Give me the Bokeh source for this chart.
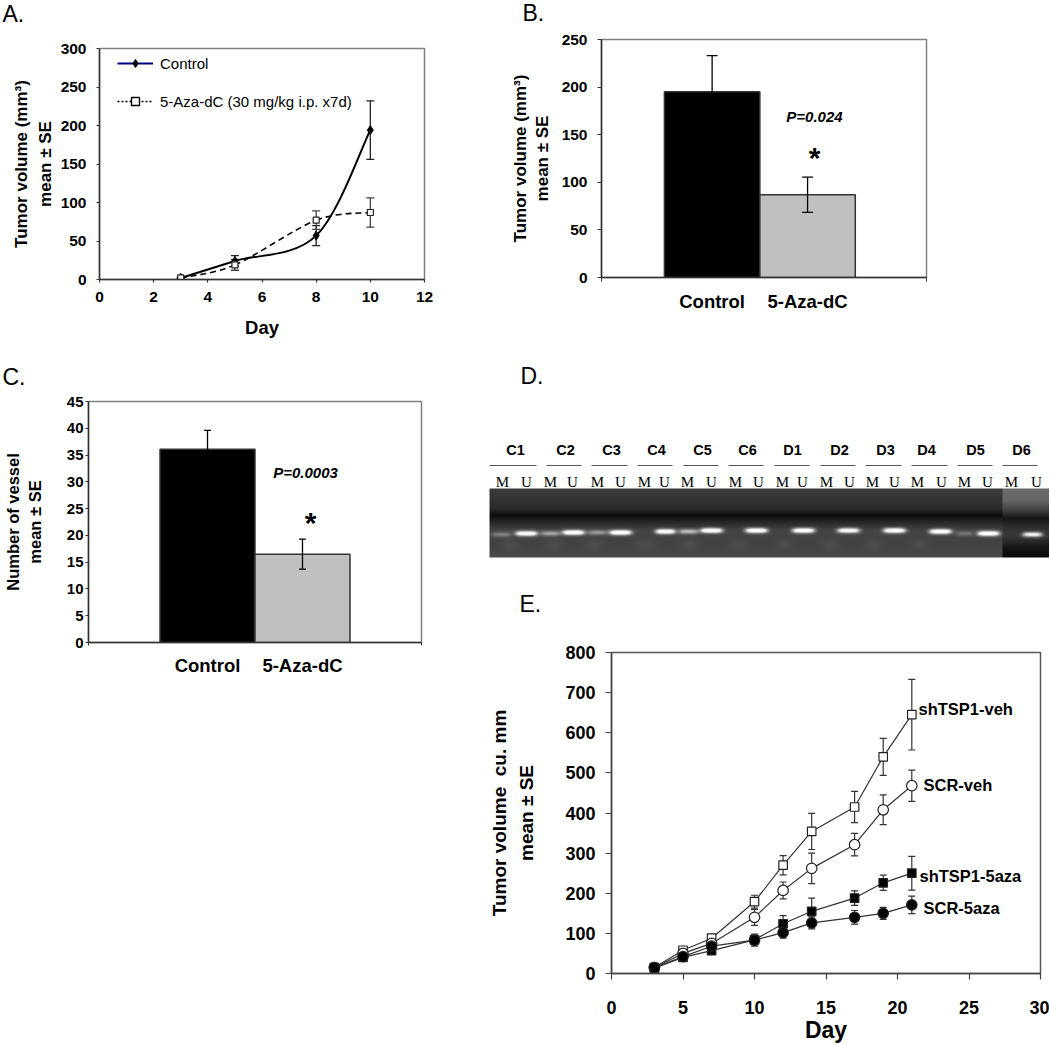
import numpy as np
from bokeh.plotting import figure
from bokeh.layouts import row, column
from bokeh.models import (Range1d, FixedTicker, Label, Whisker, TeeHead, ColumnDataSource,
                          Legend, LegendItem)
from bokeh.core.properties import value
from bokeh.embed import file_html
from bokeh.resources import INLINE

SANS = "Liberation Sans"
SERIF = "Liberation Serif"

# ---- Panel A
a_days = [3, 5, 8, 10]
a_control = [2, 24, 57, 194]
a_control_se = [1, 7, 13, 38]
a_aza = [2, 19, 77, 87]
a_aza_se = [1, 7, 12, 19]
# ---- Panel B
b_labels = ["Control", "5-Aza-dC"]
b_values = [195, 87]
b_se = [38, 18.5]
# ---- Panel C
c_labels = ["Control", "5-Aza-dC"]
c_values = [36.1, 16.5]
c_se = [3.5, 2.8]
# ---- Panel D
d_groups = ["C1", "C2", "C3", "C4", "C5", "C6", "D1", "D2", "D3", "D4", "D5", "D6"]
d_lanes = ["M", "U"] * 12
d_group_x = [516, 566, 612, 657, 703, 748, 793, 840, 886, 927, 976, 1022]
d_rule_x0 = [490, 547, 592, 638, 684, 729, 775, 821, 866, 912, 958, 1003]
d_rule_x1 = [537, 582, 628, 673, 719, 764, 810, 856, 902, 948, 993, 1038]
d_lane_x = [503, 527, 551, 573, 598, 621, 645, 665, 688, 712, 736, 759,
            783, 803, 827, 850, 873, 895, 918, 942, 965, 988, 1012, 1037]
d_band_x = [502, 527, 551, 574, 598, 621, 666, 689, 712, 757, 804, 849, 895, 941, 965, 989, 1033]
d_band_y = [534, 533, 533, 532, 532, 532, 531, 531, 530, 530, 530, 530, 530, 531, 533, 533, 534]
d_band_w = [18, 20, 18, 20, 18, 20, 18, 18, 20, 20, 20, 20, 20, 20, 16, 20, 18]
d_band_i = [.25, .95, .40, 1.0, .35, 1.0, .95, .50, 1.0, 1.0, 1.0, .9, 1.0, 1.0, .2, 1.0, .8]
d_blob_x = [510, 555, 595, 645, 690, 740, 785, 830, 875, 920]
# ---- Panel E
e_days = [3, 5, 7, 10, 12, 14, 17, 19, 21]
e_sh_veh = [15, 58, 88, 179, 270, 354, 415, 540, 645]
e_sh_veh_se = [4, 8, 9, 16, 24, 45, 39, 46, 88]
e_scr_veh = [15, 50, 75, 140, 207, 262, 321, 408, 468]
e_scr_veh_se = [4, 7, 8, 20, 21, 38, 28, 37, 39]
e_sh_aza = [13, 40, 57, 84, 124, 155, 188, 226, 250]
e_sh_aza_se = [4, 6, 7, 12, 20, 33, 18, 19, 42]
e_scr_aza = [15, 42, 68, 83, 102, 126, 140, 150, 171]
e_scr_aza_se = [4, 6, 8, 15, 14, 15, 17, 15, 22]


def base_fig(w, h, left, right, top, bottom, xr, yr):
    p = figure(width=w, height=h, x_range=xr, y_range=yr, output_backend="svg",
               toolbar_location=None, min_border_left=left, min_border_right=right,
               min_border_top=top, min_border_bottom=bottom, background_fill_color="white",
               border_fill_color="white", outline_line_color="#808080", outline_line_width=1.5,
               frame_align=False)
    p.grid.visible = False
    return p


def style_axes(p, tick_size, tick_len=3, axis_color="#333333"):
    for ax in (p.xaxis[0], p.yaxis[0]):
        ax.axis_line_color = axis_color
        ax.axis_line_width = 1.5
        ax.major_tick_line_color = axis_color
        ax.major_tick_line_width = 1.2
        ax.major_tick_in = 0
        ax.major_tick_out = tick_len
        ax.minor_tick_line_color = None
        ax.major_label_text_font = SANS
        ax.major_label_text_font_style = "bold"
        ax.major_label_text_font_size = f"{tick_size}px"
        ax.major_label_text_color = "black"
        ax.axis_label_text_font = SANS
        ax.axis_label_text_font_style = "bold"
        ax.axis_label_text_color = "black"


def note(p, text, px, py, frame_left, frame_bottom, size, style="normal", align="left"):
    p.add_layout(Label(x=px - frame_left, y=frame_bottom - py + 0.38 * size, x_units="screen", y_units="screen",
                       text=text, text_font=SANS, text_font_size=f"{size}px", text_font_style=style,
                       text_color="black", text_align=align, text_baseline="alphabetic"))


def blank_fig(w, h, xr, yr):
    p = figure(width=w, height=h, x_range=xr, y_range=yr, output_backend="svg", toolbar_location=None,
               min_border=0, outline_line_color=None, background_fill_color="white",
               border_fill_color="white", frame_align=False)
    p.axis.visible = False
    p.grid.visible = False
    return p


def letter_strip(w, h, text, px, baseline, page_x0=0, page_y0=0):
    s = blank_fig(w, h, Range1d(0, w), Range1d(0, h))
    note(s, text, px, baseline, page_x0, page_y0 + h, 23)
    return s


def smooth_segments(xs, ys):
    """Excel-style smoothed line: one cubic per pair of neighbouring data points."""
    xs, ys = np.array(xs, float), np.array(ys, float)
    n = len(xs)
    ix0, ix1 = np.clip(np.arange(n) - 1, 0, n - 1), np.clip(np.arange(n) + 1, 0, n - 1)
    tx, ty = (xs[ix1] - xs[ix0]) / 6, (ys[ix1] - ys[ix0]) / 6
    return dict(x0=xs[:-1], y0=ys[:-1], x1=xs[1:], y1=ys[1:],
                cx0=xs[:-1] + tx[:-1], cy0=ys[:-1] + ty[:-1],
                cx1=xs[1:] - tx[1:], cy1=ys[1:] - ty[1:])


def whisker(p, xs, ys, se, color="#222222", width=1.3, cap=8, level="underlay"):
    src = ColumnDataSource(dict(x=list(xs), u=[y + s for y, s in zip(ys, se)],
                                l=[y - s for y, s in zip(ys, se)]))
    w = Whisker(source=src, base="x", upper="u", lower="l", line_color=color, line_width=width, level=level,
                upper_head=TeeHead(size=cap, line_color=color, line_width=width),
                lower_head=TeeHead(size=cap, line_color=color, line_width=width))
    p.add_layout(w)


NAN = [float("nan")]

# ================= A =================
sa = letter_strip(477, 38, "A.", 2, 22)
pa = base_fig(477, 320, 99, 53, 10, 79, Range1d(0, 12), Range1d(0, 300))
style_axes(pa, 15.5)
pa.xaxis.ticker = FixedTicker(ticks=list(range(0, 13, 2)))
pa.yaxis.ticker = FixedTicker(ticks=list(range(0, 301, 50)))
pa.xaxis.major_label_standoff = 9
pa.yaxis.major_label_standoff = 10
pa.xaxis.axis_label = "Day"
pa.xaxis.axis_label_text_font_size = "18.5px"
pa.xaxis.axis_label_standoff = 12
pa.yaxis.axis_label = "Tumor volume (mm³)\nmean ± SE"
pa.yaxis.axis_label_text_font_size = "17px"
pa.yaxis.axis_label_standoff = 3
pa.yaxis.axis_label_text_line_height = 1.25
whisker(pa, a_days, a_control, a_control_se, cap=8)
whisker(pa, a_days, a_aza, a_aza_se, color="#444444", cap=8)
pa.bezier(source=ColumnDataSource(smooth_segments(a_days, a_aza)), x0="x0", y0="y0", x1="x1", y1="y1",
          cx0="cx0", cy0="cy0", cx1="cx1", cy1="cy1", line_color="black", line_width=1.6, line_dash="6 4")
pa.bezier(source=ColumnDataSource(smooth_segments(a_days, a_control)), x0="x0", y0="y0", x1="x1", y1="y1",
          cx0="cx0", cy0="cy0", cx1="cx1", cy1="cy1", line_color="black", line_width=2)
pa.scatter(a_days, a_control, marker="diamond", size=9, color="black")
pa.scatter(a_days, a_aza, marker="square", size=6, fill_color="white", line_color="#222222", line_width=1.2)
pr1 = pa.line(NAN, NAN, line_color="#000080", line_width=1.8)
pr2 = pa.scatter(NAN, NAN, marker="diamond", size=12, color="black")
pr3 = pa.line(NAN, NAN, line_color="black", line_width=1.5, line_dash="2 2")
pr4 = pa.scatter(NAN, NAN, marker="square", size=7, fill_color="white", line_color="black", line_width=1.4)
leg = Legend(items=[LegendItem(label="Control", renderers=[pr1, pr2]),
                    LegendItem(label="5-Aza-dC (30 mg/kg i.p. x7d)", renderers=[pr3, pr4])],
             location=(18, 168), border_line_color=None, background_fill_alpha=0, padding=0, margin=0,
             spacing=18, glyph_width=36, glyph_height=20, label_height=20, label_standoff=7,
             label_text_font=SANS, label_text_font_size="15px", label_text_color="black")
pa.add_layout(leg, "center")

# ================= B =================
sb = letter_strip(572, 29, "B.", 523, 21, page_x0=478)
pb = base_fig(572, 329, 124, 123, 10, 81, Range1d(-0.159, 3.246), Range1d(0, 250))
style_axes(pb, 15.5, 4)
pb.xaxis.ticker = FixedTicker(ticks=[1, 2], minor_ticks=[-0.159, 3.246])
pb.xaxis.major_label_overrides = {1: b_labels[0], 2: b_labels[1]}
pb.xaxis.major_tick_out = 0
pb.xaxis.minor_tick_out = 4
pb.xaxis.minor_tick_in = 0
pb.xaxis.minor_tick_line_color = "#333333"
pb.xaxis.major_label_text_font_size = "18.5px"
pb.xaxis.major_label_standoff = 9
pb.yaxis.ticker = FixedTicker(ticks=list(range(0, 251, 50)))
pb.yaxis.major_label_standoff = 10
pb.yaxis.axis_label = "Tumor volume (mm³)\nmean ± SE"
pb.yaxis.axis_label_text_font_size = "17px"
pb.yaxis.axis_label_standoff = 7
pb.yaxis.axis_label_text_line_height = 1.15
pb.vbar(x=[1, 2], top=b_values, width=1, fill_color=["black", "#C0C0C0"], line_color="#333333", line_width=1.5)
whisker(pb, [1, 2], b_values, b_se, color="black", cap=11, level="annotation")
note(pb, "P=0.024", 815, 122, 602, 277, 15, "bold italic", "center")
note(pb, "*", 815, 168, 602, 277, 30, "bold", "center")

# ================= C =================
sc = letter_strip(477, 33, "C.", 2, 385, page_y0=358)
pc = base_fig(477, 299, 88, 56, 10, 48, Range1d(-0.253, 3.253), Range1d(0, 45))
style_axes(pc, 15)
pc.xaxis.ticker = FixedTicker(ticks=[1, 2], minor_ticks=[-0.253, 3.253])
pc.xaxis.major_label_overrides = {1: c_labels[0], 2: c_labels[1]}
pc.xaxis.major_tick_out = 0
pc.xaxis.minor_tick_out = 3
pc.xaxis.minor_tick_in = 0
pc.xaxis.minor_tick_line_color = "#333333"
pc.xaxis.major_label_text_font_size = "18.5px"
pc.xaxis.major_label_standoff = 9
pc.yaxis.ticker = FixedTicker(ticks=list(range(0, 46, 5)))
pc.yaxis.major_label_standoff = 2
pc.yaxis.axis_label = "Number of vessel\nmean ± SE"
pc.yaxis.axis_label_text_font_size = "16.5px"
pc.yaxis.axis_label_standoff = 20
pc.vbar(x=[1, 2], top=c_values, width=1, fill_color=["black", "#C0C0C0"], line_color="#333333", line_width=1.5)
whisker(pc, [1, 2], c_values, c_se, color="black", cap=7, level="annotation")
note(pc, "P=0.0003", 306, 478, 89, 642, 15, "bold italic", "center")
note(pc, "*", 311, 533, 89, 642, 30, "bold", "center")

# ================= D (and the letter E, which sits in the same strip) =================
D_BOTTOM = 642
pd_ = blank_fig(572, D_BOTTOM - 358, Range1d(478, 1050), Range1d(0, D_BOTTOM - 358))


def up(page_y):
    return D_BOTTOM - np.asarray(page_y, float)


GEL_X0, GEL_X1, GEL_Y0, GEL_Y1, GEL_SPLIT = 490, 1050, 488, 557, 1003
yy = np.arange(GEL_Y0, GEL_Y1) + 0.5
xx = np.arange(GEL_X0, GEL_X1) + 0.5
main_prof = np.interp(yy, [488, 500, 508, 515, 522, 530, 545, 557], [.24, .20, .17, .05, .16, .27, .26, .29])
split_prof = np.interp(yy, [488, 500, 510, 518, 526, 535, 548, 557], [.42, .40, .25, .08, .18, .22, .08, .03])
gel = np.where(xx[None, :] < GEL_SPLIT, main_prof[:, None], split_prof[:, None])
for bx, by, bw, bi in zip(d_band_x, d_band_y, d_band_w, d_band_i):
    gel += bi * np.exp(-((xx[None, :] - bx) / (bw * 0.55)) ** 4) * np.exp(-((yy[:, None] - by) / 2.4) ** 2)
for bx in d_blob_x:
    gel += 0.045 * np.exp(-((xx[None, :] - bx) / 9) ** 2) * np.exp(-((yy[:, None] - 544) / 5) ** 2)
gel = (np.clip(gel, 0, 1) * 255).astype(np.uint8)[::-1]
rgba = np.zeros(gel.shape + (4,), dtype=np.uint8)
rgba[..., 0] = rgba[..., 1] = rgba[..., 2] = gel
rgba[..., 3] = 255
pd_.image_rgba(image=[rgba.view(np.uint32).reshape(gel.shape)], x=GEL_X0, y=float(up(GEL_Y1)),
               dw=GEL_X1 - GEL_X0, dh=GEL_Y1 - GEL_Y0)
pd_.segment(d_rule_x0, up([465] * 12), d_rule_x1, up([465] * 12), line_color="#555555", line_width=1.2)
pd_.text(d_group_x, up([449] * 12), text=d_groups, text_font=value(SANS), text_font_style="bold",
         text_font_size="14.5px", text_align="center", text_baseline="middle", text_color="black")
pd_.text(d_lane_x, up([481] * 24), text=d_lanes, text_font=value(SERIF), text_font_size="15px",
         text_align="center", text_baseline="middle", text_color="black")
note(pd_, "D.", 521, 384, 478, D_BOTTOM, 23)
note(pd_, "E.", 520, 612, 478, D_BOTTOM, 23)

# ================= E =================
pe = base_fig(572, 403, 134, 9, 10, 70, Range1d(0, 30), Range1d(0, 800))
pe.outline_line_color = "#555555"
style_axes(pe, 18, 6, "#444444")
pe.xaxis.ticker = FixedTicker(ticks=list(range(0, 31, 5)))
pe.yaxis.ticker = FixedTicker(ticks=list(range(0, 801, 100)))
pe.xaxis.major_label_standoff = 21
pe.yaxis.major_label_standoff = 10
pe.xaxis.axis_label = "Day"
pe.xaxis.axis_label_text_font_size = "23px"
pe.xaxis.axis_label_standoff = 0
pe.yaxis.axis_label = "Tumor volume\u00a0 cu. mm\nmean ± SE"
pe.yaxis.axis_label_text_font_size = "19px"
pe.yaxis.axis_label_standoff = 25
pe.yaxis.axis_label_text_line_height = 1.3
series = [(e_sh_veh, e_sh_veh_se, "square", 8.5, "white"),
          (e_scr_veh, e_scr_veh_se, "circle", 10.5, "white"),
          (e_sh_aza, e_sh_aza_se, "square", 8.5, "black"),
          (e_scr_aza, e_scr_aza_se, "circle", 10.5, "black")]
for vals, se, mk, sz, fill in series:
    whisker(pe, e_days, vals, se, color="#333333", width=1.2, cap=7)
    pe.line(e_days, vals, line_color="#333333", line_width=1.2)
    pe.scatter(e_days, vals, marker=mk, size=sz, fill_color=fill, line_color="#222222", line_width=1.2)
note(pe, "shTSP1-veh", 919, 717, 612, 975, 16.5, "bold")
note(pe, "SCR-veh", 924, 793, 612, 975, 16.5, "bold")
note(pe, "shTSP1-5aza", 920, 884, 612, 975, 16.5, "bold")
note(pe, "SCR-5aza", 924, 916, 612, 975, 16.5, "bold")

layout = row(column(sa, pa, sc, pc, spacing=0), column(sb, pb, pd_, pe, spacing=0), spacing=0)
open("out.html", "w").write(file_html(layout, INLINE))
